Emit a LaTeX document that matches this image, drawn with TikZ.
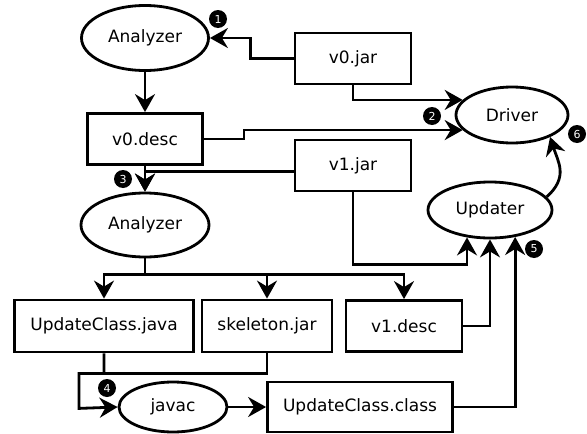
\documentclass[tikz,border=0pt]{standalone}
\usepackage{fontspec}
\setmainfont{DejaVu Sans}
\usepackage{tikz}
\usetikzlibrary{shapes, arrows.meta, positioning, calc}

\begin{document}
\begin{tikzpicture}[x=1pt, y=1pt,
  fbox/.style={draw, line width=2.8pt, minimum height=51pt, inner sep=0pt, font=\fontsize{17}{20}\selectfont},
  tool/.style={draw, ellipse, line width=2.8pt, inner sep=0pt, font=\fontsize{17}{20}\selectfont},
  wire/.style={line width=2.8pt},
  arr/.style={wire, -{Stealth[length=18pt, width=20pt, inset=6pt]}},
  badge/.style={circle, fill=black, text=white, minimum size=18pt, inner sep=0pt, font=\fontsize{11}{11}\selectfont}
]
  \useasboundingbox (0,0) rectangle (587,-434);

  % tools and files
  \node[tool, minimum width=127pt, minimum height=65pt] (ana1) at (145,-38) {Analyzer};
  \node[fbox, minimum width=116pt] (v0jar) at (353,-58.5) {v0.jar};
  \node[fbox, minimum width=115pt] (v0desc) at (145,-139) {v0.desc};
  \node[tool, minimum width=112pt, minimum height=56pt] (driver) at (512,-115) {Driver};
  \node[fbox, minimum width=116pt] (v1jar) at (353,-165.5) {v1.jar};
  \node[tool, minimum width=128pt, minimum height=64pt] (ana2) at (145,-225) {Analyzer};
  \node[tool, minimum width=124pt, minimum height=56pt] (updater) at (490,-210) {Updater};
  \node[fbox, minimum width=179pt, minimum height=52pt] (ucjava) at (104,-326) {UpdateClass.java};
  \node[fbox, minimum width=130pt, minimum height=52pt] (skel) at (267,-326) {skeleton.jar};
  \node[fbox, minimum width=116pt] (v1desc) at (404,-326) {v1.desc};
  \node[tool, minimum width=108pt, minimum height=50pt] (javac) at (173,-407) {javac};
  \node[fbox, minimum width=185pt, minimum height=50pt] (ucclass) at (360,-407) {UpdateClass.class};

  % connectors
  \draw[arr] (v0jar.west) -- ++(-43,0) |- (ana1.east);
  \draw[arr] (ana1) -- (v0desc);
  \draw[arr] (v0jar.south) |- (driver.163);
  \draw[arr] (v0desc.east) -- ++(40,0) |- (driver.197);
  \draw[arr] (v0desc) -- (ana2);
  \draw[arr] ([yshift=-6pt]v1jar.west) -| (ana2.north);
  \draw[arr] (ana2.south) -- ++(0,-16) -| (ucjava.north);
  \draw[arr] (ana2.south) -- ++(0,-16) -| (skel.north);
  \draw[arr] (ana2.south) -- ++(0,-16) -| (v1desc.north);
  \draw[wire] (skel.south) |- ([yshift=-20pt]ucjava.south);
  \draw[arr] (ucjava.south) -- ++(0,-20) -| ++(-25,-35) -- (javac.west);
  \draw[arr] (javac) -- (ucclass);
  \draw[arr] (v1jar.south) -- ++(0,-72) -| (updater.230);
  \draw[arr] (v1desc.east) -| (updater.south);
  \draw[arr] (ucclass.east) -| (updater.313);
  \draw[arr] (updater.13) .. controls +(22,20) and +(8,-25) .. (driver.-30);

  % step numbers
  \node[badge] (n1) at (218,-19) {1};
  \node[badge] (n2) at (432,-116) {2};
  \node[badge] (n3) at (123,-179) {3};
  \node[badge] (n4) at (107,-388) {4};
  \node[badge] (n5) at (534,-249) {5};
  \node[badge] (n6) at (577,-134) {6};
\end{tikzpicture}
\end{document}
